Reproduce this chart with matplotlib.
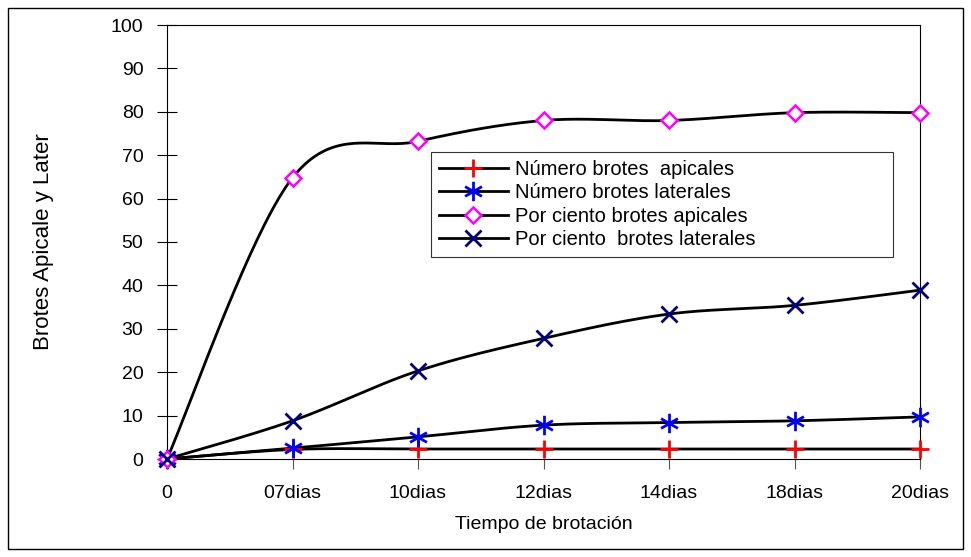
import numpy as np
import matplotlib
matplotlib.use("Agg")
import matplotlib.pyplot as plt
from matplotlib.path import Path
from matplotlib.lines import Line2D
from matplotlib.patches import Rectangle

plt.rcParams['font.family'] = ['Liberation Sans', 'DejaVu Sans']

categories = ["0", "07dias", "10dias", "12dias", "14dias", "18dias", "20dias"]
num_apicales = [0, 2.2, 2.3, 2.3, 2.3, 2.3, 2.3]
num_laterales = [0, 2.5, 5.1, 7.8, 8.4, 8.8, 9.7]
pct_apicales = [0, 64.8, 73.2, 78.0, 78.0, 79.8, 79.8]
pct_laterales = [0, 8.8, 20.3, 27.8, 33.4, 35.4, 38.9]
labels = ["Número brotes  apicales", "Número brotes laterales",
          "Por ciento brotes apicales", "Por ciento  brotes laterales"]
yticks = [0, 10, 20, 30, 40, 50, 60, 70, 80, 90, 100]


def smooth(xs, ys, n=40):
    """Bezier smoothing through every point (Catmull-Rom style tangents)."""
    p = np.column_stack([xs, ys]).astype(float)
    pts = [p[0]]
    for i in range(len(p) - 1):
        p0 = p[i - 1] if i > 0 else p[i]
        p1, p2 = p[i], p[i + 1]
        p3 = p[i + 2] if i + 2 < len(p) else p[i + 1]
        c1 = p1 + (p2 - p0) / 6.0
        c2 = p2 - (p3 - p1) / 6.0
        t = np.linspace(0, 1, n)[1:, None]
        seg = ((1 - t) ** 3) * p1 + 3 * ((1 - t) ** 2) * t * c1 \
            + 3 * (1 - t) * t ** 2 * c2 + t ** 3 * p2
        pts.extend(seg)
    pts = np.array(pts)
    return pts[:, 0], pts[:, 1]


# six-armed asterisk marker
s = np.sqrt(3) / 2
star = Path([(0, -1), (0, 1), (-s, -0.5), (s, 0.5), (-s, 0.5), (s, -0.5)],
            [Path.MOVETO, Path.LINETO] * 3)

fig = plt.figure(figsize=(9.71, 5.57), dpi=100)
fig.patches.append(Rectangle((8 / 971, 8 / 557), 955 / 971, 541 / 557,
                             transform=fig.transFigure, fill=False,
                             edgecolor='black', linewidth=1.0))
ax = fig.add_axes([167 / 971, 1 - 459 / 557, 753 / 971, 434 / 557])

x = np.arange(len(categories))
series = [
    (num_apicales, dict(marker='+', color='red', markersize=13, mew=2.0, mfc='red')),
    (num_laterales, dict(marker=star, color='blue', markersize=14, mew=2.0, mfc='blue')),
    (pct_apicales, dict(marker='D', color='magenta', markersize=8, mew=1.8, mfc='white')),
    (pct_laterales, dict(marker='x', color='#000080', markersize=12, mew=2.0, mfc='#000080')),
]

handles = []
for (vals, st), lab in zip(series, labels):
    sx, sy = smooth(x, vals)
    ax.plot(sx, sy, color='black', linewidth=2.0, zorder=2, clip_on=False)
    handles.append(Line2D([], [], color='black', linewidth=2.0, marker=st['marker'],
                          markersize=st['markersize'], markeredgewidth=st['mew'],
                          markeredgecolor=st['color'], markerfacecolor=st['mfc']))
for vals, st in series:
    ax.plot(x, vals, linestyle='none', marker=st['marker'], markersize=st['markersize'],
            markeredgewidth=st['mew'], markeredgecolor=st['color'],
            markerfacecolor=st['mfc'], zorder=3, clip_on=False)

ax.set_xlim(0, len(categories) - 1)
ax.set_ylim(0, 100)
ax.set_xticks(x)
ax.set_xticklabels(categories, fontsize=14)
ax.set_yticks(yticks)
ax.set_yticklabels([str(v) for v in yticks], fontsize=14)
ax.tick_params(axis='y', direction='inout', length=14, width=0.8, pad=10)
ax.tick_params(axis='x', direction='out', length=7, width=0.8, color='#555555', pad=12)
for sp in ax.spines.values():
    sp.set_linewidth(0.8)

ax.set_xlabel("Tiempo de brotación", fontsize=14, labelpad=10)
ax.set_ylabel("Brotes Apicale y Later", fontsize=16, labelpad=41)

leg = ax.legend(handles, labels, loc='upper left', mode='expand',
                bbox_to_anchor=(0.3506, 0.463, 0.6135, 0.2445),
                fontsize=14.5, frameon=True, fancybox=False, edgecolor='black',
                borderpad=0.4, labelspacing=0.22, handlelength=3.4, handletextpad=0.35,
                borderaxespad=0)
leg.get_frame().set_linewidth(0.8)

fig.savefig("out.png", dpi=100)
